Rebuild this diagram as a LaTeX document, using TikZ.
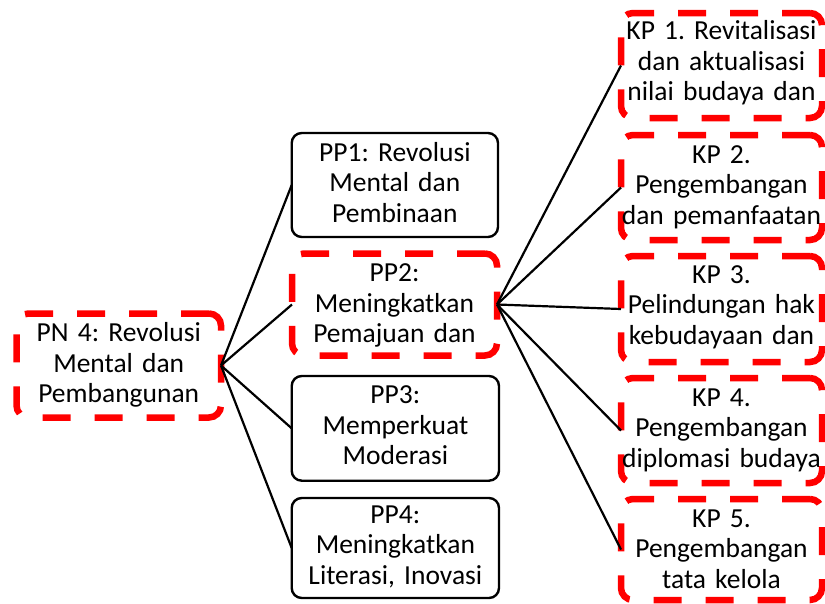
\documentclass[tikz,border=0pt]{standalone}
\usepackage{fontspec}
\setmainfont{Carlito}
\frenchspacing
\begin{document}
\begin{tikzpicture}[x=1pt,y=-1pt,
  redbox/.style={draw=red, line width=6.5pt, dash pattern=on 28pt off 24pt, rounded corners=12pt, inner sep=0pt, outer sep=0pt, anchor=north west},
  blackbox/.style={draw=black, line width=2.4pt, rounded corners=10pt, inner sep=0pt, outer sep=0pt, anchor=north west},
  boxtext/.style={anchor=base, text width=240pt, align=center, inner sep=0pt, font=\frenchspacing\fontsize{27.5}{30.5}\selectfont},
  link/.style={draw=black, line width=2.2pt}]
\useasboundingbox (0,0) rectangle (825,603);
% boxes
\node[redbox, minimum width=204.5pt, minimum height=104pt] (pn4) at (16.5,313.5) {};
\node[blackbox, minimum width=206.3pt, minimum height=104pt] (pp1) at (291.7,133) {};
\node[redbox, minimum width=205pt, minimum height=102pt] (pp2) at (292,253.5) {};
\node[blackbox, minimum width=207.3pt, minimum height=104.7pt] (pp3) at (291.7,376) {};
\node[blackbox, minimum width=207.3pt, minimum height=100pt] (pp4) at (291.7,498) {};
\node[redbox, minimum width=201pt, minimum height=105pt] (kp1) at (621,13) {};
\node[redbox, minimum width=201pt, minimum height=105pt] (kp2) at (621,135) {};
\node[redbox, minimum width=201pt, minimum height=106pt] (kp3) at (621,256) {};
\node[redbox, minimum width=201pt, minimum height=105pt] (kp4) at (621,378) {};
\node[redbox, minimum width=201pt, minimum height=101pt] (kp5) at (621,499) {};
% texts
\node[boxtext] (pn4t) at (118.75,341.5) {PN 4: Revolusi\\Mental dan\\Pembangunan};
\node[boxtext] (pp1t) at (394.85,161) {PP1: Revolusi\\Mental dan\\Pembinaan};
\node[boxtext] (pp2t) at (394.5,281.5) {PP2:\\Meningkatkan\\Pemajuan dan};
\node[boxtext] (pp3t) at (395.35,403.5) {PP3:\\Memperkuat\\Moderasi};
\node[boxtext] (pp4t) at (395.35,523) {PP4:\\Meningkatkan\\Literasi, Inovasi};
\node[boxtext] (kp1t) at (721.5,39.5) {KP 1. Revitalisasi\\dan aktualisasi\\nilai budaya dan};
\node[boxtext] (kp2t) at (721.5,163) {KP 2.\\Pengembangan\\dan pemanfaatan};
\node[boxtext] (kp3t) at (721.5,283) {KP 3.\\Pelindungan hak\\kebudayaan dan};
\node[boxtext] (kp4t) at (721.5,406) {KP 4.\\Pengembangan\\diplomasi budaya};
\node[boxtext] (kp5t) at (721.5,527) {KP 5.\\Pengembangan\\tata kelola};
% connectors
\draw[link] (pn4.east) -- (pp1.west);
\draw[link] (pn4.east) -- (pp2.west);
\draw[link] (pn4.east) -- (pp3.west);
\draw[link] (pn4.east) -- (pp4.west);
\draw[link] (pp2.east) -- (kp1.west);
\draw[link] (pp2.east) -- (kp2.west);
\draw[link] (pp2.east) -- (kp3.west);
\draw[link] (pp2.east) -- (kp4.west);
\draw[link] (pp2.east) -- (kp5.west);
\end{tikzpicture}
\end{document}
